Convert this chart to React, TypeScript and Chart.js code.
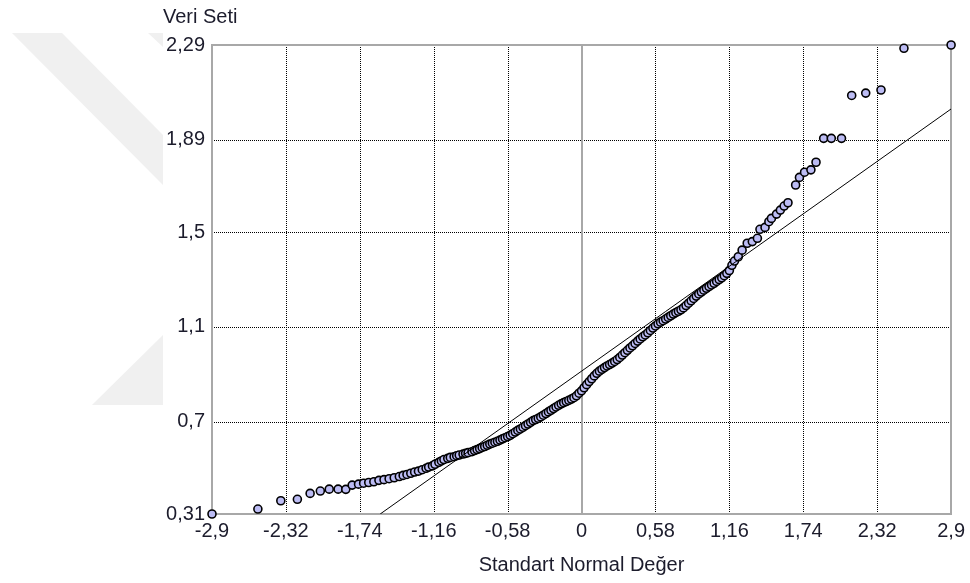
import React, { useEffect, useRef } from "react";
import { Chart, registerables } from "chart.js";

Chart.register(...registerables);

// Theoretical standard normal quantiles (x) and sorted sample values (y)
const qqX = [
  -2.9, -2.54, -2.36, -2.23, -2.13, -2.05, -1.98, -1.91, -1.85, -1.8,
  -1.75, -1.71, -1.67, -1.63, -1.59, -1.55, -1.51, -1.47, -1.43, -1.4,
  -1.37, -1.34, -1.31, -1.28, -1.25, -1.22, -1.2, -1.17, -1.15, -1.12,
  -1.1, -1.08, -1.05, -1.03, -1.0, -0.98, -0.96, -0.93, -0.91, -0.89,
  -0.86, -0.84, -0.82, -0.8, -0.78, -0.76, -0.74, -0.72, -0.7, -0.68,
  -0.66, -0.64, -0.62, -0.6, -0.58, -0.56, -0.54, -0.52, -0.5, -0.48,
  -0.46, -0.44, -0.42, -0.4, -0.38, -0.36, -0.34, -0.32, -0.3, -0.28,
  -0.26, -0.24, -0.22, -0.2, -0.18, -0.16, -0.14, -0.12, -0.1, -0.08,
  -0.06, -0.04, -0.02, 0.0, 0.02, 0.04, 0.06, 0.08, 0.1, 0.12,
  0.14, 0.16, 0.18, 0.2, 0.22, 0.24, 0.26, 0.28, 0.3, 0.32,
  0.34, 0.36, 0.38, 0.4, 0.42, 0.44, 0.46, 0.48, 0.5, 0.52,
  0.54, 0.56, 0.58, 0.6, 0.62, 0.64, 0.66, 0.68, 0.7, 0.72,
  0.74, 0.76, 0.78, 0.8, 0.82, 0.84, 0.86, 0.88, 0.9, 0.92,
  0.94, 0.96, 0.98, 1.0, 1.02, 1.04, 1.06, 1.08, 1.1, 1.12,
  1.14, 1.16, 1.18, 1.2, 1.23, 1.26, 1.3, 1.34, 1.38, 1.4,
  1.44, 1.47, 1.49, 1.53, 1.56, 1.59, 1.62, 1.68, 1.71, 1.75,
  1.8, 1.84, 1.9, 1.96, 2.04, 2.12, 2.23, 2.35, 2.53, 2.9,
];
const qqY = [
  0.31, 0.331, 0.366, 0.372, 0.397, 0.407, 0.415, 0.415, 0.414, 0.432,
  0.436, 0.44, 0.443, 0.446, 0.452, 0.455, 0.459, 0.463, 0.468, 0.473,
  0.477, 0.482, 0.487, 0.491, 0.497, 0.503, 0.508, 0.513, 0.52, 0.528,
  0.534, 0.54, 0.545, 0.549, 0.552, 0.556, 0.559, 0.563, 0.566, 0.569,
  0.573, 0.578, 0.582, 0.586, 0.591, 0.595, 0.6, 0.605, 0.609, 0.613,
  0.617, 0.622, 0.627, 0.632, 0.637, 0.642, 0.649, 0.656, 0.663, 0.669,
  0.676, 0.683, 0.69, 0.697, 0.704, 0.709, 0.714, 0.72, 0.727, 0.734,
  0.741, 0.748, 0.755, 0.762, 0.769, 0.775, 0.78, 0.785, 0.79, 0.795,
  0.801, 0.809, 0.82, 0.83, 0.843, 0.856, 0.869, 0.881, 0.893, 0.904,
  0.913, 0.921, 0.928, 0.935, 0.941, 0.947, 0.954, 0.962, 0.971, 0.981,
  0.991, 1.001, 1.011, 1.02, 1.03, 1.04, 1.049, 1.058, 1.066, 1.075,
  1.085, 1.095, 1.104, 1.113, 1.12, 1.126, 1.133, 1.14, 1.147, 1.154,
  1.16, 1.166, 1.172, 1.18, 1.19, 1.2, 1.21, 1.22, 1.23, 1.239,
  1.247, 1.255, 1.263, 1.27, 1.277, 1.284, 1.292, 1.3, 1.307, 1.316,
  1.326, 1.338, 1.36, 1.378, 1.396, 1.424, 1.453, 1.46, 1.474, 1.512,
  1.52, 1.544, 1.558, 1.576, 1.593, 1.61, 1.624, 1.699, 1.731, 1.753,
  1.763, 1.795, 1.896, 1.896, 1.896, 2.077, 2.087, 2.1, 2.276, 2.29,
];

// Fitted reference line end points
const lineX = [-1.58, 2.9];
const lineY = [0.31, 2.02];

// Axis ticks and their labels
const xTickValues = [-2.9, -2.32, -1.74, -1.16, -0.58, 0, 0.58, 1.16, 1.74, 2.32, 2.9];
const xTickLabels = ["-2,9", "-2,32", "-1,74", "-1,16", "-0,58", "0", "0,58", "1,16", "1,74", "2,32", "2,9"];
const yTickValues = [0.31, 0.7, 1.1, 1.5, 1.89, 2.29];
const yTickLabels = ["0,31", "0,7", "1,1", "1,5", "1,89", "2,29"];

const xTitle = "Standart Normal Değer";
const yTitle = "Veri Seti";

const FONT = "'Liberation Sans', Arial, sans-serif";
const TEXT_COLOR = "#1c1c2c";

// Dotted grid, grey zero line and grey frame drawn under the points
const frameGrid = {
  id: "frameGrid",
  beforeDatasetsDraw(chart: any) {
    const { ctx, chartArea, scales } = chart;
    const { left, right, top, bottom } = chartArea;
    const xs = scales.x;
    const ys = scales.y;
    ctx.save();
    ctx.lineWidth = 1;
    ctx.strokeStyle = "#000";
    ctx.setLineDash([1, 1]);
    xTickValues.forEach((v, i) => {
      if (i === 0 || i === xTickValues.length - 1 || v === 0) return;
      const px = Math.round(xs.getPixelForValue(v)) + 0.5;
      ctx.beginPath();
      ctx.moveTo(px, top);
      ctx.lineTo(px, bottom);
      ctx.stroke();
    });
    yTickValues.forEach((v, i) => {
      if (i === 0 || i === yTickValues.length - 1) return;
      const py = Math.round(ys.getPixelForValue(v)) + 0.5;
      ctx.beginPath();
      ctx.moveTo(left, py);
      ctx.lineTo(right, py);
      ctx.stroke();
    });
    ctx.setLineDash([]);
    ctx.strokeStyle = "#a8a8a8";
    ctx.lineWidth = 2;
    const zx = Math.round(xs.getPixelForValue(0));
    ctx.beginPath();
    ctx.moveTo(zx, top);
    ctx.lineTo(zx, bottom);
    ctx.stroke();
    ctx.strokeRect(Math.round(left), Math.round(top), Math.round(right - left), Math.round(bottom - top));
    ctx.restore();
  },
  afterDraw(chart: any) {
    const { ctx, chartArea } = chart;
    ctx.save();
    ctx.font = `20px ${FONT}`;
    ctx.fillStyle = TEXT_COLOR;
    ctx.textAlign = "left";
    ctx.textBaseline = "alphabetic";
    ctx.fillText(yTitle, chartArea.left - 49, chartArea.top - 22);
    ctx.restore();
  },
};

export default function App() {
  const canvasRef = useRef<HTMLCanvasElement | null>(null);

  useEffect(() => {
    const canvas = canvasRef.current;
    if (!canvas) return;
    const points = qqX.map((x, i) => ({ x, y: qqY[i] }));
    const linePts = lineX.map((x, i) => ({ x, y: lineY[i] }));

    const chart = new Chart(canvas, {
      type: "scatter",
      data: {
        datasets: [
          {
            type: "line",
            data: linePts,
            borderColor: "#000",
            borderWidth: 1,
            pointRadius: 0,
            fill: false,
            order: 0,
          } as any,
          {
            type: "scatter",
            data: points,
            pointStyle: "circle",
            pointRadius: 4,
            pointBorderWidth: 1.6,
            pointBackgroundColor: "#bcbcf4",
            pointBorderColor: "#000",
            clip: false,
            order: 1,
          } as any,
        ],
      },
      options: {
        animation: false,
        responsive: false,
        devicePixelRatio: 1,
        layout: { padding: { left: 0, right: 17, top: 45, bottom: 0 } },
        plugins: {
          legend: { display: false },
          tooltip: { enabled: false },
        },
        scales: {
          x: {
            type: "linear",
            min: -2.9,
            max: 2.9,
            grid: { display: false, drawTicks: false },
            border: { display: false },
            afterBuildTicks: (scale: any) => {
              scale.ticks = xTickValues.map((v) => ({ value: v }));
            },
            afterFit: (scale: any) => {
              scale.height = 69;
            },
            ticks: {
              autoSkip: false,
              maxRotation: 0,
              padding: 5,
              color: TEXT_COLOR,
              font: { family: FONT, size: 20 },
              callback: (_v: any, i: number) => xTickLabels[i],
            },
            title: {
              display: true,
              text: xTitle,
              color: TEXT_COLOR,
              font: { family: FONT, size: 20 },
              padding: { top: 0, bottom: 6 },
            },
          },
          y: {
            type: "linear",
            min: 0.31,
            max: 2.29,
            grid: { display: false, drawTicks: false },
            border: { display: false },
            afterBuildTicks: (scale: any) => {
              scale.ticks = yTickValues.map((v) => ({ value: v }));
            },
            afterFit: (scale: any) => {
              scale.width = 212;
            },
            ticks: {
              autoSkip: false,
              padding: 7,
              color: TEXT_COLOR,
              font: { family: FONT, size: 20 },
              callback: (_v: any, i: number) => yTickLabels[i],
            },
          },
        },
      },
      plugins: [frameGrid],
    });

    return () => chart.destroy();
  }, []);

  return (
    <div
      style={{
        position: "absolute",
        left: 0,
        top: 0,
        width: 970,
        height: 583,
        background: "#fff",
        overflow: "hidden",
      }}
    >
      <svg
        width={970}
        height={583}
        style={{ position: "absolute", left: 0, top: 0 }}
      >
        <polygon points="12,33 62,33 163,135 163,185" fill="#f0f0f0" />
        <polygon points="148,33 163,33 163,47" fill="#f0f0f0" />
        <polygon points="163,335 163,405 92,405" fill="#f0f0f0" />
      </svg>
      <canvas
        ref={canvasRef}
        width={970}
        height={583}
        style={{ position: "absolute", left: 0, top: 0 }}
      />
    </div>
  );
}
